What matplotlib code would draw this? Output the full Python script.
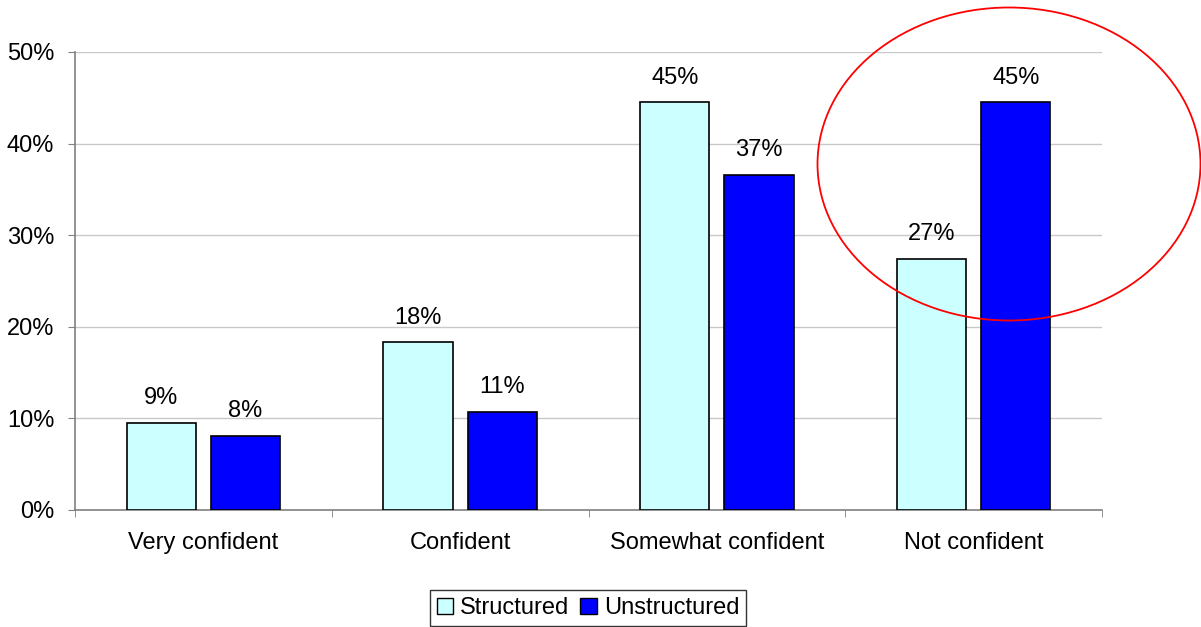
import matplotlib
matplotlib.use("Agg")
import matplotlib.pyplot as plt
from matplotlib.patches import Ellipse, Patch
import numpy as np

categories = ["Very confident", "Confident", "Somewhat confident", "Not confident"]
structured = [9.5, 18.3, 44.5, 27.4]
unstructured = [8.1, 10.7, 36.6, 44.5]
structured_labels = ["9%", "18%", "45%", "27%"]
unstructured_labels = ["8%", "11%", "37%", "45%"]
yticks = [0, 10, 20, 30, 40, 50]
ytick_labels = ["0%", "10%", "20%", "30%", "40%", "50%"]
series_names = ["Structured", "Unstructured"]

plt.rcParams['font.family'] = ['Liberation Sans', 'DejaVu Sans']
FS = 17

W, H = 1201, 627
fig = plt.figure(figsize=(W / 100, H / 100), dpi=100)
ax = fig.add_axes([75 / W, 1 - 510 / H, (1102 - 75) / W, (510 - 52) / H])

x = np.arange(len(categories))
bw = 0.27
off = 0.164
c_s = "#ccffff"
c_u = "#0000ff"
b1 = ax.bar(x - off, structured, bw, color=c_s, edgecolor="black", linewidth=1.2, zorder=3)
b2 = ax.bar(x + off, unstructured, bw, color=c_u, edgecolor="black", linewidth=1.2, zorder=3)

for rect, lab in zip(b1, structured_labels):
    ax.text(rect.get_x() + rect.get_width() / 2, rect.get_height() + 1.5, lab,
            ha="center", va="bottom", fontsize=FS)
for rect, lab in zip(b2, unstructured_labels):
    ax.text(rect.get_x() + rect.get_width() / 2, rect.get_height() + 1.5, lab,
            ha="center", va="bottom", fontsize=FS)

ax.set_xlim(-0.5, len(categories) - 0.5)
ax.set_ylim(0, 50)
ax.set_yticks(yticks)
ax.set_yticklabels(ytick_labels, fontsize=FS)
ax.yaxis.grid(True, color="#c8c8c8", linewidth=1, zorder=0)
ax.set_axisbelow(True)

ax.set_xticks(x)
ax.set_xticklabels(categories, fontsize=FS)
ax.tick_params(axis="x", length=0, pad=16)
ax.set_xticks(np.arange(len(categories) + 1) - 0.5, minor=True)
ax.tick_params(axis="x", which="minor", length=5, color="#808080", direction="out")
ax.tick_params(axis="y", length=5, color="#808080", pad=10)

for s in ["top", "right"]:
    ax.spines[s].set_visible(False)
ax.spines["left"].set_color("#808080")
ax.spines["bottom"].set_color("#808080")
ax.spines["left"].set_linewidth(1.2)
ax.spines["bottom"].set_linewidth(1.2)

# highlight ellipse (annotation) in figure coordinates
ell = Ellipse((1009 / W, 1 - 164 / H), 383 / W, 313 / H, transform=fig.transFigure,
              fill=False, edgecolor="#ff0000", linewidth=1.3, clip_on=False)
fig.patches.append(ell)

handles = [Patch(facecolor=c_s, edgecolor="black", label=series_names[0]),
           Patch(facecolor=c_u, edgecolor="black", label=series_names[1])]
leg = fig.legend(handles=handles, loc="upper center", bbox_to_anchor=(588 / W, 1 - 590 / H),
                 ncol=2, fontsize=FS, frameon=True, fancybox=False, edgecolor="black",
                 handlelength=0.7, handleheight=0.7, handletextpad=0.3, columnspacing=0.45,
                 borderpad=0.3, borderaxespad=0)
leg.get_frame().set_linewidth(1.0)

fig.savefig("out.png", dpi=100)
